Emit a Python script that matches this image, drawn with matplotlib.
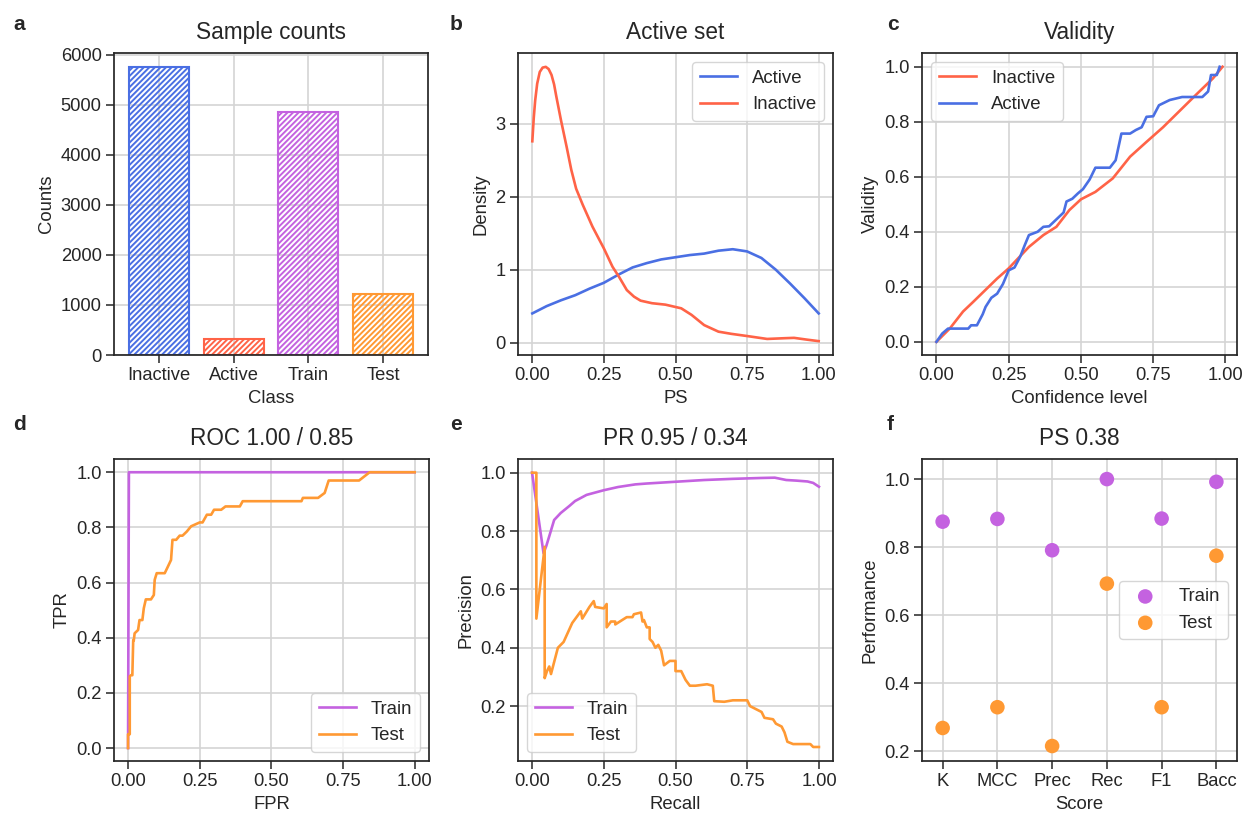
import matplotlib
matplotlib.use("Agg")
import matplotlib.pyplot as plt

# ---- data -------------------------------------------------------------
classes = ["Inactive", "Active", "Train", "Test"]
counts = [5750, 325, 4865, 1220]

kde_active_x = [0.0, 0.05, 0.10, 0.15, 0.20, 0.25, 0.30, 0.35, 0.40, 0.45, 0.50,
                0.55, 0.60, 0.65, 0.70, 0.75, 0.80, 0.85, 0.90, 0.95, 1.0]
kde_active_y = [0.40, 0.50, 0.58, 0.65, 0.74, 0.82, 0.93, 1.03, 1.09, 1.14, 1.17,
                1.20, 1.22, 1.26, 1.28, 1.25, 1.16, 1.00, 0.81, 0.61, 0.40]
kde_inactive_x = [0.0, 0.005, 0.01, 0.017, 0.026, 0.036, 0.047, 0.057, 0.067, 0.076,
                  0.084, 0.10, 0.12, 0.136, 0.153, 0.176, 0.21, 0.25, 0.28, 0.303,
                  0.33, 0.355, 0.378, 0.418, 0.465, 0.52, 0.556, 0.60, 0.65, 0.695,
                  0.75, 0.82, 0.88, 0.914, 0.96, 1.0]
kde_inactive_y = [2.76, 3.08, 3.32, 3.55, 3.71, 3.77, 3.78, 3.75, 3.67, 3.54,
                  3.37, 3.05, 2.68, 2.37, 2.11, 1.89, 1.59, 1.29, 1.04, 0.90,
                  0.72, 0.63, 0.575, 0.54, 0.52, 0.47, 0.38, 0.24, 0.15, 0.12,
                  0.09, 0.05, 0.06, 0.065, 0.04, 0.02]

val_inactive_x = [0.0, 0.046, 0.092, 0.127, 0.21, 0.25, 0.32, 0.37, 0.415, 0.46,
                  0.50, 0.55, 0.61, 0.67, 0.727, 0.784, 0.842, 0.90, 0.957, 0.99]
val_inactive_y = [0.0, 0.048, 0.11, 0.145, 0.23, 0.267, 0.345, 0.388, 0.418, 0.479,
                  0.518, 0.545, 0.594, 0.673, 0.727, 0.78, 0.84, 0.90, 0.958, 1.0]
val_active_x = [0.0, 0.02, 0.04, 0.11, 0.12, 0.14, 0.16, 0.17, 0.19, 0.21, 0.23,
                0.25, 0.27, 0.29, 0.305, 0.32, 0.35, 0.37, 0.39, 0.42, 0.44, 0.45,
                0.47, 0.49, 0.507, 0.53, 0.55, 0.60, 0.62, 0.64, 0.67, 0.69, 0.71,
                0.727, 0.75, 0.77, 0.807, 0.85, 0.92, 0.94, 0.95, 0.97, 0.98]
val_active_y = [0.0, 0.03, 0.048, 0.048, 0.06, 0.06, 0.10, 0.127, 0.16, 0.175, 0.21,
                0.26, 0.27, 0.31, 0.35, 0.388, 0.40, 0.418, 0.42, 0.45, 0.47, 0.51,
                0.52, 0.54, 0.555, 0.59, 0.633, 0.633, 0.66, 0.757, 0.757, 0.77, 0.78,
                0.818, 0.82, 0.86, 0.879, 0.89, 0.89, 0.91, 0.97, 0.97, 1.0]

roc_train_x = [0.0, 0.003, 1.0]
roc_train_y = [0.0, 1.0, 1.0]
roc_test_x = [0.0, 0.0, 0.006, 0.006, 0.01, 0.015, 0.018, 0.02, 0.023, 0.035, 0.04,
              0.05, 0.055, 0.062, 0.08, 0.09, 0.093, 0.10, 0.128, 0.14, 0.15, 0.155,
              0.168, 0.18, 0.19, 0.205, 0.22, 0.25, 0.26, 0.275, 0.29, 0.30, 0.325,
              0.34, 0.39, 0.40, 0.605, 0.61, 0.663, 0.686, 0.70, 0.806, 0.843, 1.0]
roc_test_y = [0.0, 0.05, 0.05, 0.26, 0.264, 0.264, 0.39, 0.39, 0.416, 0.428, 0.464,
              0.464, 0.507, 0.539, 0.539, 0.555, 0.61, 0.634, 0.634, 0.66, 0.682,
              0.755, 0.755, 0.77, 0.77, 0.785, 0.804, 0.818, 0.818, 0.846, 0.846,
              0.864, 0.864, 0.876, 0.876, 0.895, 0.895, 0.907, 0.907, 0.925, 0.97,
              0.97, 1.0, 1.0]

pr_train_x = [0.0, 0.04, 0.05, 0.077, 0.10, 0.13, 0.15, 0.19, 0.25, 0.30, 0.36, 0.40,
              0.50, 0.60, 0.70, 0.80, 0.846, 0.886, 0.92, 0.96, 0.98, 1.0]
pr_train_y = [1.0, 0.724, 0.75, 0.838, 0.862, 0.886, 0.903, 0.924, 0.94, 0.951, 0.96,
              0.963, 0.969, 0.975, 0.979, 0.982, 0.983, 0.975, 0.973, 0.970, 0.965, 0.952]
pr_test_x = [0.0, 0.015, 0.015, 0.044, 0.044, 0.052, 0.06, 0.066, 0.09, 0.11, 0.14,
             0.17, 0.175, 0.20, 0.215, 0.22, 0.25, 0.26, 0.26, 0.275, 0.29, 0.29,
             0.33, 0.35, 0.355, 0.38, 0.385, 0.39, 0.40, 0.41, 0.41, 0.42, 0.43,
             0.44, 0.45, 0.46, 0.48, 0.50, 0.50, 0.52, 0.535, 0.55, 0.57, 0.61,
             0.63, 0.635, 0.67, 0.70, 0.75, 0.76, 0.78, 0.80, 0.81, 0.84, 0.85,
             0.87, 0.88, 0.89, 0.91, 0.97, 0.98, 1.0]
pr_test_y = [1.0, 1.0, 0.50, 0.746, 0.296, 0.32, 0.336, 0.31, 0.40, 0.42, 0.485,
             0.525, 0.50, 0.54, 0.56, 0.54, 0.535, 0.55, 0.47, 0.49, 0.49, 0.48,
             0.505, 0.505, 0.515, 0.521, 0.49, 0.495, 0.47, 0.47, 0.43, 0.42, 0.40,
             0.41, 0.39, 0.34, 0.355, 0.355, 0.32, 0.32, 0.29, 0.27, 0.27, 0.275,
             0.27, 0.217, 0.215, 0.22, 0.22, 0.20, 0.19, 0.18, 0.16, 0.155, 0.14,
             0.13, 0.11, 0.078, 0.07, 0.07, 0.06, 0.06]

scores = ["K", "MCC", "Prec", "Rec", "F1", "Bacc"]
perf_train = [0.875, 0.883, 0.791, 1.0, 0.884, 0.992]
perf_test = [0.269, 0.330, 0.216, 0.693, 0.330, 0.775]

# ---- style ------------------------------------------------------------
BLUE = "#4a6fe3"
RED = "#ff6347"
PURPLE = "#c462e0"
ORANGE = "#ff9933"
DARK = "#262626"

plt.rcParams.update({
    "font.family": ["Liberation Sans", "DejaVu Sans"],
    "font.size": 13.3,
    "axes.titlesize": 16.3,
    "axes.labelsize": 13.3,
    "xtick.labelsize": 13.2,
    "ytick.labelsize": 13.2,
    "legend.fontsize": 13.4,
    "axes.edgecolor": DARK,
    "axes.linewidth": 1.25,
    "axes.labelcolor": DARK,
    "text.color": DARK,
    "xtick.color": DARK,
    "ytick.color": DARK,
    "xtick.major.size": 5.5,
    "ytick.major.size": 5.5,
    "xtick.major.width": 1.1,
    "ytick.major.width": 1.1,
    "axes.grid": True,
    "grid.color": "#d4d4d4",
    "grid.linewidth": 1.2,
    "axes.axisbelow": True,
    "legend.edgecolor": "#cccccc",
    "legend.framealpha": 0.8,
    "hatch.linewidth": 1.4,
    "lines.linewidth": 1.9,
})

W, H = 1249, 816
fig = plt.figure(figsize=(W / 100, H / 100), dpi=100)


def add_ax(x0, y0, x1, y1):
    return fig.add_axes([x0 / W, 1 - y1 / H, (x1 - x0) / W, (y1 - y0) / H])


ax_a = add_ax(114, 53, 428, 355)
ax_b = add_ax(518, 53, 833, 355)
ax_c = add_ax(922, 53, 1237, 355)
ax_d = add_ax(114, 459, 429, 761)
ax_e = add_ax(518, 459, 833, 761)
ax_f = add_ax(922, 459, 1237, 761)

# a: sample counts
bar_colors = [BLUE, RED, PURPLE, ORANGE]
for i, (c, n) in enumerate(zip(classes, counts)):
    ax_a.bar(i, n, width=0.8, facecolor="none", edgecolor=bar_colors[i],
             hatch="//////", linewidth=1.5)
ax_a.set_xticks(range(len(classes)))
ax_a.set_xticklabels(classes)
ax_a.set_yticks([0, 1000, 2000, 3000, 4000, 5000, 6000])
ax_a.set_xlim(-0.6, 3.6)
ax_a.set_ylim(0, 6037)
ax_a.set_xlabel("Class")
ax_a.set_ylabel("Counts")
ax_a.set_title("Sample counts", pad=10)

# b: density of PS
ax_b.plot(kde_active_x, kde_active_y, color=BLUE, label="Active")
ax_b.plot(kde_inactive_x, kde_inactive_y, color=RED, label="Inactive")
ax_b.set_xlim(-0.05, 1.05)
ax_b.set_ylim(-0.17, 3.97)
ax_b.set_xticks([0, 0.25, 0.5, 0.75, 1.0])
ax_b.set_yticks([0, 1, 2, 3])
ax_b.set_xlabel("PS")
ax_b.set_ylabel("Density")
ax_b.set_title("Active set", pad=10)
ax_b.legend(loc="upper right")

# c: validity
ax_c.plot(val_inactive_x, val_inactive_y, color=RED, label="Inactive")
ax_c.plot(val_active_x, val_active_y, color=BLUE, label="Active")
ax_c.set_xlim(-0.05, 1.04)
ax_c.set_ylim(-0.048, 1.05)
ax_c.set_xticks([0, 0.25, 0.5, 0.75, 1.0])
ax_c.set_yticks([0, 0.2, 0.4, 0.6, 0.8, 1.0])
ax_c.set_xlabel("Confidence level")
ax_c.set_ylabel("Validity")
ax_c.set_title("Validity", pad=10)
ax_c.legend(loc="upper left")

# d: ROC
ax_d.plot(roc_train_x, roc_train_y, color=PURPLE, label="Train")
ax_d.plot(roc_test_x, roc_test_y, color=ORANGE, label="Test")
ax_d.set_xlim(-0.049, 1.05)
ax_d.set_ylim(-0.047, 1.048)
ax_d.set_xticks([0, 0.25, 0.5, 0.75, 1.0])
ax_d.set_yticks([0, 0.2, 0.4, 0.6, 0.8, 1.0])
ax_d.set_xlabel("FPR")
ax_d.set_ylabel("TPR")
ax_d.set_title("ROC 1.00 / 0.85", pad=10)
ax_d.legend(loc="lower right")

# e: precision-recall
ax_e.plot(pr_train_x, pr_train_y, color=PURPLE, label="Train")
ax_e.plot(pr_test_x, pr_test_y, color=ORANGE, label="Test")
ax_e.set_xlim(-0.049, 1.049)
ax_e.set_ylim(0.012, 1.047)
ax_e.set_xticks([0, 0.25, 0.5, 0.75, 1.0])
ax_e.set_yticks([0.2, 0.4, 0.6, 0.8, 1.0])
ax_e.set_xlabel("Recall")
ax_e.set_ylabel("Precision")
ax_e.set_title("PR 0.95 / 0.34", pad=10)
ax_e.legend(loc="lower left")

# f: performance scores
xs = list(range(len(scores)))
ax_f.scatter(xs, perf_train, s=110, color=PURPLE, label="Train", zorder=3,
             edgecolor="none")
ax_f.scatter(xs, perf_test, s=110, color=ORANGE, label="Test", zorder=3,
             edgecolor="none")
ax_f.set_xticks(xs)
ax_f.set_xticklabels(scores)
ax_f.set_xlim(-0.377, 5.377)
ax_f.set_ylim(0.172, 1.059)
ax_f.set_yticks([0.2, 0.4, 0.6, 0.8, 1.0])
ax_f.set_xlabel("Score")
ax_f.set_ylabel("Performance")
ax_f.set_title("PS 0.38", pad=10)
ax_f.legend(loc="center right")

# panel letters
for letter, (px, py) in zip("abcdef", [(13, 30), (450, 30), (887, 30),
                                       (13, 430), (450, 430), (887, 430)]):
    fig.text(px / W, 1 - py / H, letter, fontsize=15, fontweight="bold",
             ha="left", va="baseline")

fig.savefig("out.png", dpi=100)
